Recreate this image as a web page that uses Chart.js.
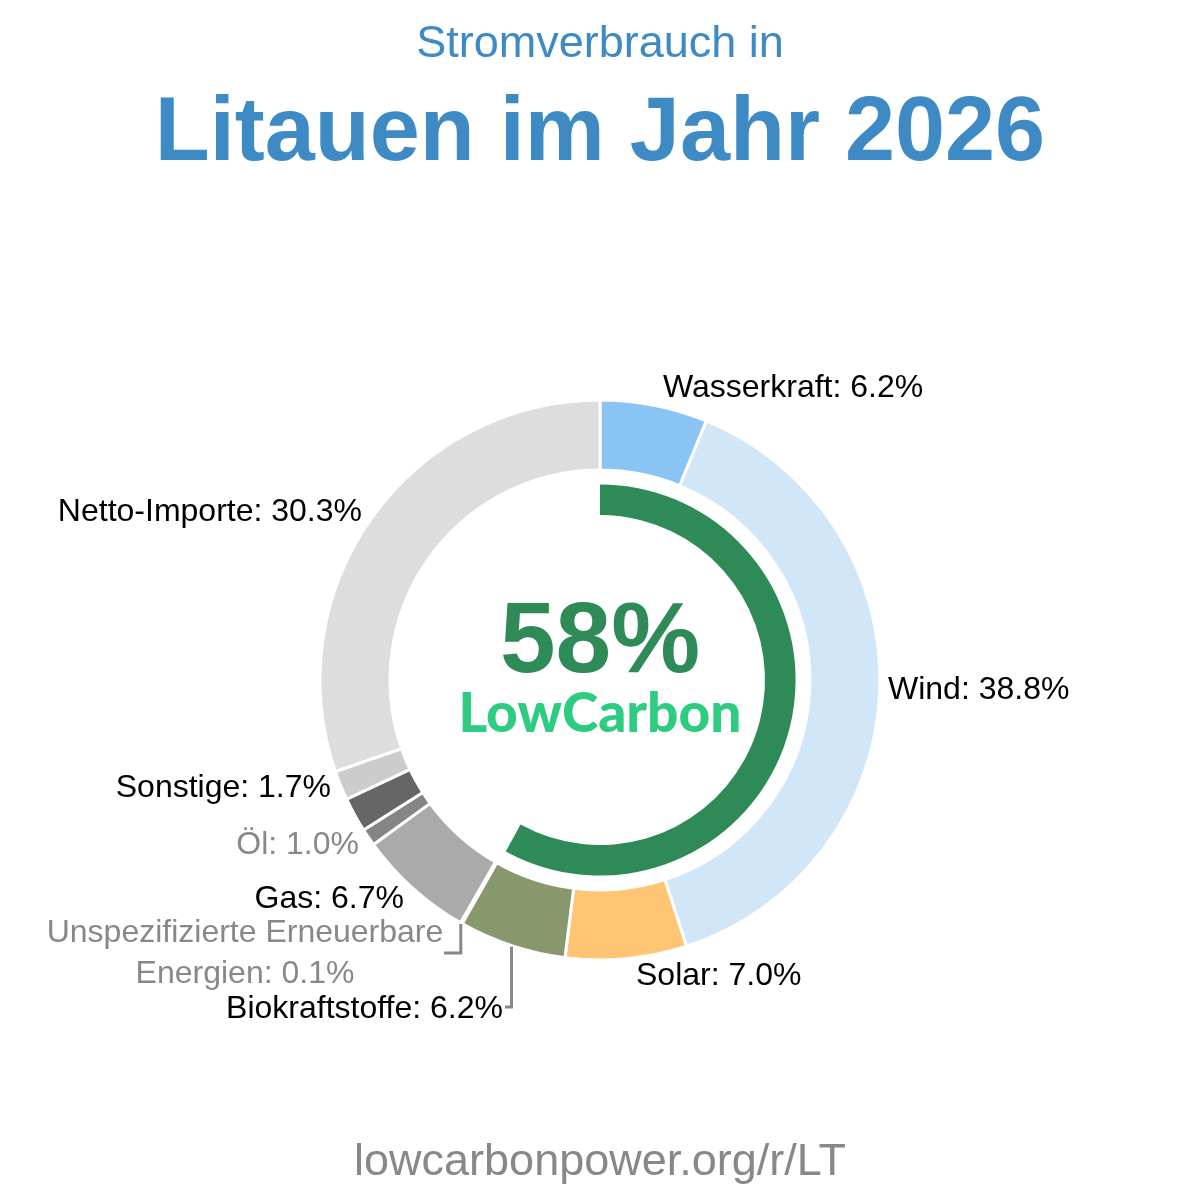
<!DOCTYPE html>
<html>
<head>
<meta charset="utf-8">
<script src="https://cdn.jsdelivr.net/npm/chart.js@4/dist/chart.umd.min.js"></script>
<style>
  body { margin: 0; background: #fff; }
  #wrap { position: relative; width: 1200px; height: 1200px; overflow: hidden; font-family: "Liberation Sans", Arial, sans-serif; }
  #chart { position: absolute; left: 0; top: 0; }
  .t { position: absolute; line-height: 1; white-space: nowrap; }
  .lbl { position: absolute; font-size: 32px; line-height: 1; white-space: nowrap; }
</style>
</head>
<body>
<div id="wrap">
  <canvas id="chart" width="1200" height="1200"></canvas>
  <div class="t" style="left:0;width:1200px;text-align:center;top:19px;font-size:45px;color:#3d8ac4;">Stromverbrauch in</div>
  <div class="t" style="left:0;width:1200px;text-align:center;top:84px;font-size:90px;font-weight:bold;color:#3d8ac4;">Litauen im Jahr 2026</div>
  <div class="t" id="big" style="left:0;width:1200px;text-align:center;top:587px;font-size:100px;font-weight:bold;color:#2e8b57;"></div>
  <div class="t" style="left:0;width:1200px;text-align:center;top:684px;font-size:55px;font-weight:900;font-family:Lato,sans-serif;color:#2ecc80;">LowCarbon</div>
  <div class="t" style="left:0;width:1200px;text-align:center;top:1137px;font-size:45px;color:#888;">lowcarbonpower.org/r/LT</div>
</div>
<script>
// data (percent of consumption, clockwise from the top)
const categories = ['Wasserkraft', 'Wind', 'Solar', 'Biokraftstoffe', 'Unspezifizierte Erneuerbare Energien', 'Gas', 'Öl', 'Kohle', 'Sonstige', 'Netto-Importe'];
const shares = [6.2, 38.8, 7.0, 6.2, 0.1, 6.7, 1.0, 2.0, 1.7, 30.3];
const colors = ['#89c4f4', '#d1e6f7', '#ffc575', '#88976c', '#55a86e', '#aaaaaa', '#858585', '#666666', '#cccccc', '#dddddd'];
const lowCarbon = 58;

// label placement (x, y = middle of the text)
const labelLayout = [
  { x: 663, y: 386, align: 'left' },
  { x: 888, y: 688, align: 'left' },
  { x: 636, y: 974, align: 'left' },
  { x: 503, y: 1007, align: 'right', leader: { x: 505, y: 1007 } },
  { x: 245, y: 931, align: 'center', lines: ['Unspezifizierte Erneuerbare', 'Energien'], leader: { x: 444, y: 953 } },
  { x: 404, y: 897, align: 'right' },
  { x: 359, y: 843, align: 'right' },
  null,
  { x: 331, y: 786, align: 'right' },
  { x: 362, y: 510, align: 'right' }
];

document.getElementById('big').textContent = lowCarbon + '%';

const wrap = document.getElementById('wrap');
categories.forEach(function(name, i) {
  const pos = labelLayout[i];
  if (!pos) return;
  const el = document.createElement('div');
  el.className = 'lbl';
  el.style.color = shares[i] <= 1.0 ? '#888' : '#000';
  const txt = shares[i].toFixed(1) + '%';
  if (pos.lines) {
    el.style.whiteSpace = 'pre';
    el.style.lineHeight = '41px';
    el.style.textAlign = 'center';
    el.textContent = pos.lines[0] + '\n' + pos.lines[1] + ': ' + txt;
    el.style.top = (pos.y - 20) + 'px';
  } else {
    el.textContent = name + ': ' + txt;
    el.style.top = (pos.y - 16) + 'px';
  }
  if (pos.align === 'left') el.style.left = pos.x + 'px';
  else if (pos.align === 'right') el.style.right = (1200 - pos.x) + 'px';
  else { el.style.left = pos.x + 'px'; el.style.transform = 'translateX(-50%)'; }
  wrap.appendChild(el);
});

// leader lines for the crowded labels
const leaders = {
  id: 'leaders',
  afterDatasetsDraw(chart) {
    const ctx = chart.ctx;
    const meta = chart.getDatasetMeta(0);
    ctx.save();
    ctx.strokeStyle = '#888';
    ctx.lineWidth = 3;
    labelLayout.forEach(function(pos, i) {
      if (!pos || !pos.leader) return;
      const arc = meta.data[i];
      const mid = (arc.startAngle + arc.endAngle) / 2;
      const px = arc.x + Math.cos(mid) * (arc.outerRadius + 1);
      const py = arc.y + Math.sin(mid) * (arc.outerRadius + 1);
      ctx.beginPath();
      ctx.moveTo(px, py);
      ctx.lineTo(px, pos.leader.y);
      ctx.lineTo(pos.leader.x, pos.leader.y);
      ctx.stroke();
    });
    ctx.restore();
  }
};

new Chart(document.getElementById('chart'), {
  type: 'doughnut',
  data: {
    labels: categories,
    datasets: [
      {
        data: shares,
        backgroundColor: colors,
        borderColor: '#fff',
        borderWidth: 3,
        weight: 71
      },
      {
        data: [1],
        backgroundColor: 'rgba(0,0,0,0)',
        borderWidth: 0,
        weight: 14.5
      },
      {
        data: [lowCarbon, 100 - lowCarbon],
        backgroundColor: ['#2e8b57', 'rgba(0,0,0,0)'],
        borderWidth: 0,
        weight: 31
      }
    ]
  },
  options: {
    responsive: false,
    animation: false,
    cutout: 165,
    layout: { padding: { left: 318.5, right: 318.5, top: 398.5, bottom: 238.5 } },
    plugins: {
      legend: { display: false },
      tooltip: { enabled: false }
    }
  },
  plugins: [leaders]
});
</script>
</body>
</html>
